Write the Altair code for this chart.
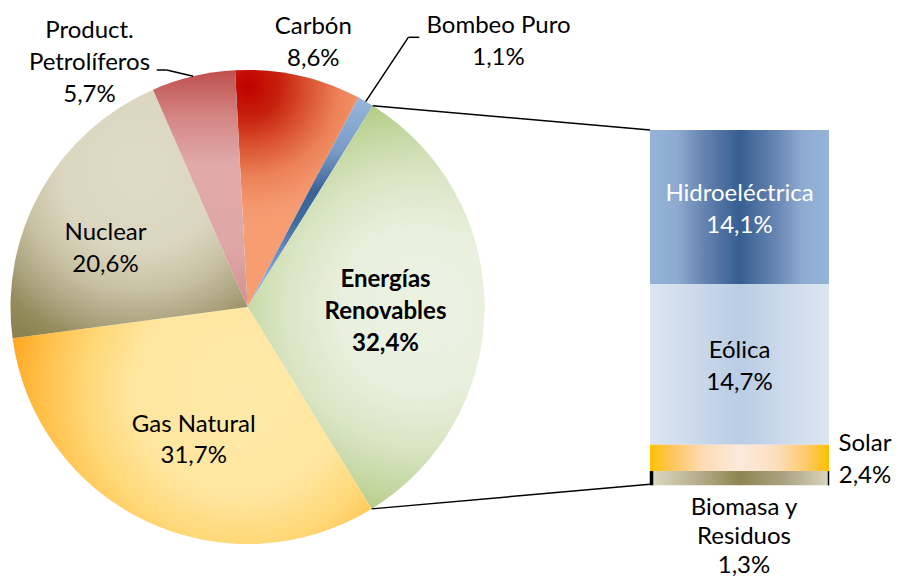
import math
import altair as alt
import pandas as pd

# ---------------- data ----------------
pie_names = ["Carbón", "Bombeo Puro", "Energías Renovables", "Gas Natural", "Nuclear", "Product. Petrolíferos"]
pie_values = [8.6, 1.1, 32.4, 31.7, 20.6, 5.7]
pie_label_names = ["Carbón", "Bombeo Puro", "Energías\nRenovables", "Gas Natural", "Nuclear", "Product.\nPetrolíferos"]

bar_names = ["Hidroeléctrica", "Eólica", "Solar", "Biomasa y Residuos"]
bar_values = [14.1, 14.7, 2.4, 1.3]
bar_label_names = ["Hidroeléctrica", "Eólica", "Solar", "Biomasa y\nResiduos"]

# ---------------- layout (chart coordinates) ----------------
W, H = 884, 569
CX, CY, R = 239.5, 299.0, 237.0
START_DEG = 357.0
BAR_X0, BAR_X1 = 642, 821
BAR_Y0, BAR_Y1 = 122, 477.3
FONT = "Lato"
FS = 24
LH = 31.7

pie_label_pos = {
    "Carbón": (305.3, 26.3),
    "Bombeo Puro": (490.5, 25.0),
    "Energías Renovables": (377.5, 279.3),
    "Gas Natural": (185.7, 423.7),
    "Nuclear": (97.5, 232.0),
    "Product. Petrolíferos": (81.5, 30.3),
}
# (x, first baseline, line height)
outside_bar_label_pos = {"Solar": (857, 443, LH), "Biomasa y Residuos": (736, 507, 29)}
leader_pts = {"Bombeo Puro": [(400.3, 29.3), (411.3, 29.3)],
              "Product. Petrolíferos": [(158.7, 62.0), (148.7, 62.0)]}


def fmt(v):
    return f"{v:.1f}".replace(".", ",") + "%"


pie_total = sum(pie_values)
bar_total = sum(bar_values)

cum = 0.0
pie_rows = []
for n, v, ln in zip(pie_names, pie_values, pie_label_names):
    pie_rows.append({"name": n, "value": v, "start": cum, "end": cum + v,
                     "label": ln + "\n" + fmt(v)})
    cum += v
pie_df = pd.DataFrame(pie_rows)

cum = 0.0
bar_rows = []
for n, v, ln in zip(bar_names, bar_values, bar_label_names):
    bar_rows.append({"name": n, "value": v, "start": cum, "end": cum + v,
                     "mid": cum + v / 2, "label": ln + "\n" + fmt(v)})
    cum += v
bar_df = pd.DataFrame(bar_rows)


def deg_of(val):
    return START_DEG + val / pie_total * 360.0


def polar(a):
    r = math.radians(a)
    return CX + R * math.sin(r), CY - R * math.cos(r)


def slice_bbox(a0, a1):
    pts = [(CX, CY), polar(a0), polar(a1)]
    k = math.ceil(a0 / 90.0) * 90
    while k < a1:
        pts.append(polar(k))
        k += 90
    xs = [p[0] for p in pts]
    ys = [p[1] for p in pts]
    return min(xs), min(ys), max(xs) - min(xs), max(ys) - min(ys)


def stops(lst):
    return [alt.GradientStop(color=c, offset=o) for o, c in lst]


def radial(name, cx, cy, r, st):
    row = pie_df[pie_df.name == name].iloc[0]
    bx, by, w, h = slice_bbox(deg_of(row.start), deg_of(row.end))
    s = max(w, h)
    ox = bx + (w - s) / 2
    oy = by + (h - s) / 2
    nx, ny = (cx - ox) / s, (cy - oy) / s
    return alt.RadialGradient(gradient="radial", stops=stops(st),
                              x1=nx, y1=ny, r1=0, x2=nx, y2=ny, r2=r / s)


def vlinear(st):
    return alt.LinearGradient(gradient="linear", stops=stops(st), x1=0.5, y1=0, x2=0.5, y2=1)


def hlinear(st):
    return alt.LinearGradient(gradient="linear", stops=stops(st), x1=0, y1=0.5, x2=1, y2=0.5)


pie_fills = {
    "Carbón": radial("Carbón", 240, 78, 140,
                     [(0, "#c00000"), (0.22, "#c6200c"), (0.42, "#d95030"), (0.65, "#ec8258"),
                      (0.88, "#f59a70"), (1, "#f79d72")]),
    "Bombeo Puro": vlinear([(0, "#97b6da"), (0.25, "#7a9cc8"), (0.45, "#3a6396"), (0.6, "#416b9f"),
                            (0.85, "#88aad6"), (1, "#95b7e0")]),
    "Energías Renovables": radial("Energías Renovables", 412, 302, 230,
                                  [(0, "#ecf2e2"), (0.35, "#e9f0de"), (0.6, "#d9e5c3"),
                                   (0.8, "#c2d69e"), (1, "#a6c26e")]),
    "Gas Natural": radial("Gas Natural", 232, 382, 235,
                          [(0, "#ffe9a8"), (0.45, "#ffe6a0"), (0.65, "#ffd878"),
                           (0.85, "#ffbf48"), (1, "#ffa520")]),
    "Nuclear": radial("Nuclear", 132, 162, 200,
                      [(0, "#dedac6"), (0.4, "#dbd6bf"), (0.6, "#c8c2a4"), (0.78, "#aba37e"),
                       (0.9, "#958c5d"), (1, "#8c8352")]),
    "Product. Petrolíferos": vlinear([(0, "#bd4f4c"), (0.2, "#d48785"), (0.4, "#e1aaa9"),
                                      (0.75, "#dea7a7"), (1, "#d38f8f")]),
}

bar_fills = {
    "Hidroeléctrica": hlinear([(0, "#95b3d7"), (0.15, "#8eaad0"), (0.3, "#6684b0"), (0.5, "#365e91"),
                               (0.7, "#6685b1"), (0.85, "#8eaad1"), (1, "#95b3d7")]),
    "Eólica": hlinear([(0, "#dce6f2"), (0.3, "#c8d7ea"), (0.5, "#b9cde5"), (0.7, "#c8d7ea"), (1, "#dce6f2")]),
    "Solar": hlinear([(0, "#ffc000"), (0.12, "#fec55a"), (0.3, "#fddcb5"), (0.5, "#fdeadc"),
                      (0.7, "#fddfc0"), (0.88, "#fdc865"), (1, "#ffc000")]),
    "Biomasa y Residuos": hlinear([(0, "#ddd9c3"), (0.25, "#b8b18f"), (0.5, "#8f8551"),
                                   (0.75, "#aaa382"), (1, "#d9d5c0")]),
}

theta_scale = alt.Scale(domain=[0, pie_total],
                        range=[math.radians(START_DEG), math.radians(START_DEG + 360)])
y_scale = alt.Scale(domain=[0, bar_total], range=[BAR_Y0, BAR_Y1], nice=False, zero=False)

layers = []
pie_base = alt.Chart(pie_df)
bar_base = alt.Chart(bar_df)

# pie slices
for n in pie_names:
    layers.append(
        pie_base.transform_filter(alt.datum.name == n)
        .mark_arc(radius=R, fill=pie_fills[n], stroke=None)
        .encode(x=alt.value(CX), y=alt.value(CY),
                theta=alt.Theta("start:Q", scale=theta_scale, stack=None),
                theta2="end:Q")
    )

# stacked bar
for n in bar_names:
    layers.append(
        bar_base.transform_filter(alt.datum.name == n)
        .mark_rect(fill=bar_fills[n])
        .encode(x=alt.value(BAR_X0), x2=alt.value(BAR_X1),
                y=alt.Y("start:Q", scale=y_scale, axis=None), y2="end:Q")
    )

# black edges on the last bar segment
last = bar_names[-1]
layers.append(bar_base.transform_filter(alt.datum.name == last)
              .mark_rule(color="black", strokeWidth=3.5)
              .encode(x=alt.value(BAR_X0 + 1.5), y=alt.Y("start:Q", scale=y_scale, axis=None), y2="end:Q"))
layers.append(bar_base.transform_filter(alt.datum.name == last)
              .mark_rule(color="black", strokeWidth=1.5)
              .encode(x=alt.value(BAR_X1 - 0.5), y=alt.Y("start:Q", scale=y_scale, axis=None), y2="end:Q"))

# connector lines (pie -> bar)
ren = pie_df[pie_df.name == "Energías Renovables"].iloc[0]
p_top = polar(deg_of(ren.start))
p_bot = polar(deg_of(ren.end))
for (px, py), by in [(p_top, BAR_Y0), (p_bot, BAR_Y1 - 1)]:
    layers.append(pie_base.transform_filter(alt.datum.name == "Energías Renovables")
                  .mark_rule(color="black", strokeWidth=1.5)
                  .encode(x=alt.value(px), y=alt.value(py), x2=alt.value(BAR_X0), y2=alt.value(by)))

# leader lines
for n, pts in leader_pts.items():
    row = pie_df[pie_df.name == n].iloc[0]
    p0 = polar(deg_of((row.start + row.end) / 2))
    chain = [p0] + pts
    for a, b in zip(chain[:-1], chain[1:]):
        layers.append(pie_base.transform_filter(alt.datum.name == n)
                      .mark_rule(color="black", strokeWidth=1.5)
                      .encode(x=alt.value(a[0]), y=alt.value(a[1]), x2=alt.value(b[0]), y2=alt.value(b[1])))

# pie labels
for n in pie_names:
    lx, ly = pie_label_pos[n]
    bold = n == "Energías Renovables"
    layers.append(pie_base.transform_filter(alt.datum.name == n)
                  .mark_text(font=FONT, fontSize=FS, fontWeight="bold" if bold else "normal",
                             color="#000000", align="center", baseline="alphabetic",
                             lineBreak="\n", lineHeight=LH)
                  .encode(x=alt.value(lx), y=alt.value(ly), text="label:N"))

# bar labels
for n in bar_names:
    if n in outside_bar_label_pos:
        lx, ly, lh = outside_bar_label_pos[n]
        layers.append(bar_base.transform_filter(alt.datum.name == n)
                      .mark_text(font=FONT, fontSize=FS, color="#000000", align="center",
                                 baseline="alphabetic", lineBreak="\n", lineHeight=lh)
                      .encode(x=alt.value(lx), y=alt.value(ly), text="label:N"))
    else:
        col = "#ffffff" if n == "Hidroeléctrica" else "#000000"
        layers.append(bar_base.transform_filter(alt.datum.name == n)
                      .mark_text(font=FONT, fontSize=FS, color=col, align="center",
                                 baseline="alphabetic", lineBreak="\n", lineHeight=LH, dy=-6)
                      .encode(x=alt.value((BAR_X0 + BAR_X1) / 2),
                              y=alt.Y("mid:Q", scale=y_scale, axis=None), text="label:N"))

chart = (
    alt.layer(*layers)
    .properties(width=W, height=H, padding=0, autosize="none", background="white")
    .configure_view(stroke=None)
)

chart.save("out.html", embed_options={"renderer": "svg", "actions": False})
